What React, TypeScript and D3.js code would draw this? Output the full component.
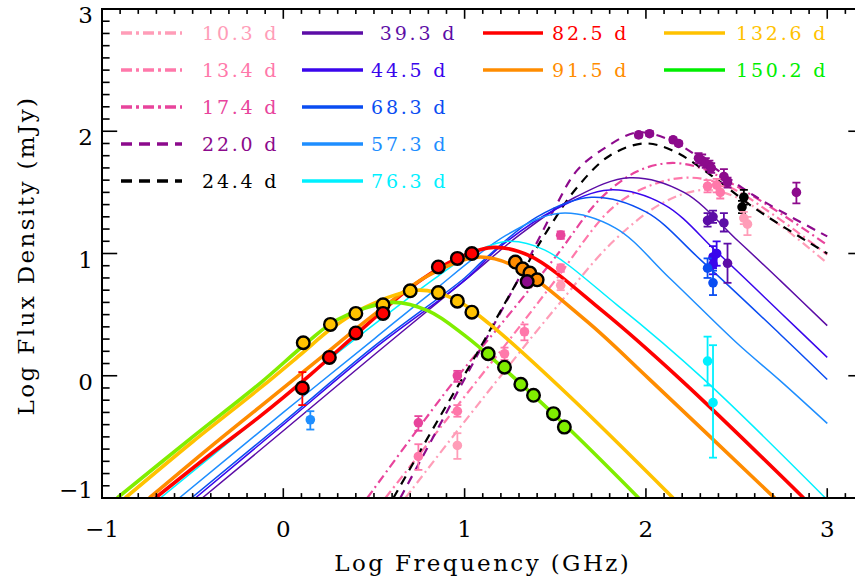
import React from "react";
import * as d3 from "d3";

// ---------- data ----------
const labels = ["10.3 d", "13.4 d", "17.4 d", "22.0 d", "24.4 d", " 39.3 d", "44.5 d", "68.3 d", "57.3 d", "76.3 d", "82.5 d", "91.5 d", "132.6 d", "150.2 d"];
const colors = ["#FF9DB8", "#FF78AA", "#E8449C", "#8C0A8C", "#000000", "#5C0DA6", "#3A06EC", "#0A4DF2", "#1E8EFF", "#00F0FF", "#FF0000", "#FF8C00", "#FFC200", "#00EE00"];
const curveColors = ["#FF9DB8", "#FF78AA", "#E8449C", "#8C0A8C", "#000000", "#5C0DA6", "#3A06EC", "#0A4DF2", "#1E8EFF", "#00F0FF", "#FF0000", "#FF8C00", "#FFC200", "#80EE00"];
const lineKinds = ["dashdot", "dashdot", "dashdot", "dash", "dash", "thin", "thin", "thin", "thin", "thin", "thick", "thick", "thick", "thick"];

const xTicks = [-1, 0, 1, 2, 3];
const yTicks = [-1, 0, 1, 2, 3];

// model curves (log nu, log F)
const curve10: [number, number][] = [[0.673, -1], [0.96, -0.45], [1.2, 0.0], [1.5, 0.55], [1.82, 1.1], [2.1, 1.42], [2.32, 1.52], [2.5, 1.46], [2.75, 1.22], [3.0, 0.92]];
const curve13: [number, number][] = [[0.563, -1], [0.8, -0.55], [1.0, -0.17], [1.25, 0.3], [1.5, 0.78], [1.82, 1.38], [2.05, 1.57], [2.25, 1.62], [2.45, 1.55], [2.7, 1.32], [3.0, 0.99]];
const curve17: [number, number][] = [[0.463, -1], [0.745, -0.43], [0.96, -0.01], [1.2, 0.42], [1.5, 0.97], [1.75, 1.45], [1.95, 1.67], [2.13, 1.74], [2.3, 1.7], [2.5, 1.55], [2.75, 1.32], [3.0, 1.07]];
const curve22: [number, number][] = [[0.645, -1], [0.9, -0.3], [1.1, 0.25], [1.3, 0.8], [1.5, 1.38], [1.62, 1.68], [1.77, 1.86], [1.95, 1.99], [2.13, 1.93], [2.32, 1.76], [2.6, 1.47], [3.0, 1.14]];
const curve24: [number, number][] = [[0.607, -1], [0.85, -0.37], [1.09, 0.24], [1.24, 0.64], [1.47, 1.22], [1.62, 1.54], [1.8, 1.8], [1.99, 1.9], [2.15, 1.84], [2.35, 1.65], [2.6, 1.37], [3.0, 1.0]];
const curve39: [number, number][] = [[-0.447, -1], [0.0, -0.45], [0.5, 0.17], [1.0, 0.78], [1.31, 1.16], [1.61, 1.46], [1.91, 1.62], [2.21, 1.5], [2.51, 1.1], [2.74, 0.78], [3.0, 0.41]];
const curve44: [number, number][] = [[-0.485, -1], [0.0, -0.4], [0.5, 0.22], [1.0, 0.78], [1.2, 1.06], [1.5, 1.36], [1.8, 1.52], [2.1, 1.4], [2.4, 1.0], [2.74, 0.52], [3.0, 0.15]];
const curve68: [number, number][] = [[-0.507, -1], [0.0, -0.38], [0.5, 0.24], [1.0, 0.8], [1.1, 0.94], [1.4, 1.3], [1.7, 1.46], [2.0, 1.34], [2.3, 0.95], [2.74, 0.34], [3.0, -0.03]];
const curve57: [number, number][] = [[-0.574, -1], [0.0, -0.3], [0.5, 0.3], [0.8, 0.66], [1.23, 1.15], [1.53, 1.33], [1.83, 1.21], [2.13, 0.8], [2.5, 0.27], [2.74, -0.04], [3.0, -0.39]];
const curve76: [number, number][] = [[-0.678, -1], [-0.2, -0.42], [0.2, 0.07], [0.51, 0.43], [0.84, 0.8], [1.04, 1.0], [1.24, 1.1], [1.44, 1.03], [1.84, 0.58], [2.32, -0.03], [2.99, -1]];
const curve82: [number, number][] = [[-0.706, -1], [-0.4, -0.64], [-0.127, -0.33], [0.15, 0.01], [0.425, 0.37], [0.7, 0.72], [0.96, 0.96], [1.16, 1.05], [1.36, 0.98], [1.76, 0.53], [2.19, -0.03], [2.87, -1]];
const curve91: [number, number][] = [[-0.739, -1], [-0.4, -0.58], [-0.1, -0.22], [0.2, 0.14], [0.5, 0.5], [0.8, 0.82], [1.07, 0.97], [1.27, 0.9], [1.67, 0.45], [2.02, -0.03], [2.71, -1]];
const curve132: [number, number][] = [[-0.872, -1], [-0.5, -0.54], [-0.127, -0.1], [0.1, 0.18], [0.26, 0.38], [0.45, 0.56], [0.74, 0.7], [0.94, 0.63], [1.14, 0.42], [1.58, -0.17], [2.15, -1]];
const curve150: [number, number][] = [[-0.916, -1], [-0.5, -0.5], [-0.127, -0.06], [0.13, 0.27], [0.3, 0.46], [0.6, 0.6], [0.8, 0.53], [1.0, 0.33], [1.2, 0.08], [1.58, -0.44], [1.96, -1]];
const curves = [curve10, curve13, curve17, curve22, curve24, curve39, curve44, curve68, curve57, curve76, curve82, curve91, curve132, curve150];

// observed points with black outline: [series, log nu, log F]
const bigPoints: [number, number, number][] = [
  [12, 0.11, 0.27], [12, 0.26, 0.42], [12, 0.4, 0.51], [12, 0.55, 0.58], [12, 0.7, 0.695], [12, 0.855, 0.68], [12, 0.96, 0.61], [12, 1.04, 0.52],
  [10, 0.105, -0.1], [10, 0.254, 0.15], [10, 0.4, 0.35], [10, 0.55, 0.51], [10, 0.855, 0.89], [10, 0.96, 0.96], [10, 1.04, 1.0],
  [11, 1.28, 0.93], [11, 1.32, 0.875], [11, 1.36, 0.84], [11, 1.4, 0.785],
  [3, 1.345, 0.77],
  [13, 1.13, 0.18], [13, 1.22, 0.07], [13, 1.31, -0.07], [13, 1.38, -0.16], [13, 1.49, -0.31], [13, 1.55, -0.42],
];
// error bar for big points: [series, log nu, low, high]
const bigErrors: [number, number, number, number][] = [[10, 0.105, -0.24, 0.03]];

// small points with error bars: [series, log nu, log F, low, high]
const smallPoints: [number, number, number, number, number][] = [
  [8, 0.149, -0.36, -0.44, -0.29],
  [2, 0.745, -0.385, -0.45, -0.33],
  [1, 0.745, -0.66, -0.77, -0.56],
  [0, 0.96, -0.57, -0.68, -0.47],
  [1, 0.96, -0.29, -0.335, -0.24],
  [2, 0.96, 0.0, -0.05, 0.04],
  [1, 1.22, 0.18, 0.13, 0.23],
  [1, 1.33, 0.36, 0.29, 0.42],
  [2, 1.53, 1.15, 1.12, 1.18],
  [1, 1.53, 0.88, 0.85, 0.91],
  [0, 1.53, 0.74, 0.7, 0.78],
  [3, 1.96, 1.97, 1.95, 1.99], [3, 2.02, 1.98, 1.96, 2.0], [3, 2.15, 1.93, 1.91, 1.95], [3, 2.18, 1.9, 1.88, 1.92],
  [3, 2.29, 1.78, 1.74, 1.82], [3, 2.31, 1.76, 1.72, 1.81], [3, 2.33, 1.74, 1.7, 1.78], [3, 2.35, 1.72, 1.68, 1.76], [3, 2.36, 1.7, 1.66, 1.74],
  [3, 2.43, 1.63, 1.58, 1.69], [3, 2.45, 1.58, 1.54, 1.62], [3, 2.83, 1.5, 1.41, 1.58],
  [4, 2.54, 1.46, 1.4, 1.52], [4, 2.53, 1.38, 1.33, 1.43],
  [1, 2.34, 1.55, 1.5, 1.6], [1, 2.39, 1.56, 1.5, 1.61], [1, 2.41, 1.5, 1.45, 1.55],
  [0, 2.54, 1.29, 1.24, 1.34], [0, 2.56, 1.24, 1.15, 1.3],
  [5, 2.34, 1.27, 1.22, 1.33], [5, 2.37, 1.3, 1.25, 1.35], [5, 2.43, 1.25, 1.18, 1.33], [5, 2.45, 0.92, 0.76, 1.08],
  [6, 2.37, 0.97, 0.88, 1.06], [6, 2.39, 1.0, 0.9, 1.1], [6, 2.37, 0.91, 0.83, 0.99],
  [7, 2.34, 0.88, 0.8, 0.96], [7, 2.37, 0.76, 0.66, 0.86],
  [9, 2.34, 0.12, -0.08, 0.32], [9, 2.37, -0.22, -0.67, 0.25],
];

// ---------- layout ----------
const W = 855, H = 581;
const x = d3.scaleLinear().domain([-1, 3.2]).range([102, 863.5]);
const y = d3.scaleLinear().domain([-1, 3]).range([498, 9]);
const FONT = "'DejaVu Serif', serif";

function dashFor(kind: string) {
  if (kind === "dashdot") return "9 4 2 4";
  if (kind === "dash") return "9 7";
  return undefined;
}
function widthFor(kind: string) {
  if (kind === "thick") return 3.6;
  if (kind === "thin") return 1.5;
  return 2.2;
}

export default function App() {
  const line = d3.line<[number, number]>().x(d => x(d[0])).y(d => y(d[1])).curve(d3.curveCatmullRom.alpha(0.5));
  const [x0, x1] = x.range();
  const [y0, y1] = y.range();
  const xMinor = d3.range(-10, 33).map(i => i / 10);
  const yMinor = d3.range(-10, 31).map(i => i / 10);

  const legendCols = [
    { lx0: 121, lx1: 182, tx: 202, items: [0, 1, 2, 3, 4] },
    { lx0: 302, lx1: 363, tx: 371, items: [5, 6, 7, 8, 9] },
    { lx0: 483, lx1: 543, tx: 552, items: [10, 11] },
    { lx0: 664, lx1: 725, tx: 736, items: [12, 13] },
  ];
  const rowY = (r: number) => 33 + r * 37;

  return (
    <svg width={W} height={H} style={{ position: "absolute", left: 0, top: 0, background: "#fff" }} fontFamily={FONT}>
      <defs>
        <clipPath id="plot"><rect x={x0} y={y1} width={x1 - x0} height={y0 - y1} /></clipPath>
      </defs>
      <rect x={0} y={0} width={W} height={H} fill="#fff" />

      {/* curves */}
      <g clipPath="url(#plot)" fill="none">
        {curves.map((c, i) => (
          <path key={i} d={line(c) || ""} stroke={curveColors[i]} strokeWidth={widthFor(lineKinds[i])}
            strokeDasharray={dashFor(lineKinds[i])} strokeLinejoin="round" />
        ))}
      </g>

      {/* small points */}
      <g clipPath="url(#plot)">
        {smallPoints.map(([s, px, py, lo, hi], i) => (
          <g key={i} stroke={curveColors[s]} strokeWidth={1.8}>
            <line x1={x(px)} x2={x(px)} y1={y(lo)} y2={y(hi)} />
            <line x1={x(px) - 4} x2={x(px) + 4} y1={y(lo)} y2={y(lo)} />
            <line x1={x(px) - 4} x2={x(px) + 4} y1={y(hi)} y2={y(hi)} />
            <circle cx={x(px)} cy={y(py)} r={4.8} fill={curveColors[s]} stroke="none" />
          </g>
        ))}
      </g>

      {/* big points */}
      <g>
        {bigErrors.map(([s, px, lo, hi], i) => (
          <g key={i} stroke={curveColors[s]} strokeWidth={1.8}>
            <line x1={x(px)} x2={x(px)} y1={y(lo)} y2={y(hi)} />
            <line x1={x(px) - 4} x2={x(px) + 4} y1={y(lo)} y2={y(lo)} />
            <line x1={x(px) - 4} x2={x(px) + 4} y1={y(hi)} y2={y(hi)} />
          </g>
        ))}
        {bigPoints.map(([s, px, py], i) => (
          <circle key={i} cx={x(px)} cy={y(py)} r={6.3} fill={curveColors[s]} stroke="#000" strokeWidth={2.4} />
        ))}
      </g>

      {/* frame */}
      <rect x={x0} y={y1} width={x1 - x0} height={y0 - y1} fill="none" stroke="#000" strokeWidth={2} />
      <g stroke="#000" strokeWidth={1.6}>
        {xMinor.map((t, i) => {
          const major = Math.abs(t - Math.round(t)) < 1e-6;
          const L = major ? 9.8 : 4.9;
          return (
            <g key={i}>
              <line x1={x(t)} x2={x(t)} y1={y0} y2={y0 - L} />
              <line x1={x(t)} x2={x(t)} y1={y1} y2={y1 + L} />
            </g>
          );
        })}
        {yMinor.map((t, i) => {
          const major = Math.abs(t - Math.round(t)) < 1e-6;
          const L = major ? 15.2 : 7.6;
          return (
            <g key={i}>
              <line x1={x0} x2={x0 + L} y1={y(t)} y2={y(t)} />
              <line x1={x1} x2={x1 - L} y1={y(t)} y2={y(t)} />
            </g>
          );
        })}
      </g>

      {/* tick labels */}
      <g fontSize={23} fill="#000">
        {xTicks.map(t => (
          <text key={t} x={x(t)} y={537} textAnchor="middle">{t < 0 ? "\u2212" + Math.abs(t) : t}</text>
        ))}
        {yTicks.map(t => (
          <text key={t} x={93} y={t === -1 ? y(t) : y(t) + 14} textAnchor="end">{t < 0 ? "\u2212" + Math.abs(t) : t}</text>
        ))}
      </g>

      {/* axis titles */}
      <text x={(x0 + x1) / 2} y={571} textAnchor="middle" fontSize={23} letterSpacing={2.4}>Log Frequency (GHz)</text>
      <text transform={`translate(34,${(y0 + y1) / 2 + 2}) rotate(-90)`} textAnchor="middle" fontSize={23} letterSpacing={2.4}>Log Flux Density (mJy)</text>

      {/* legend */}
      {legendCols.map((col, ci) => (
        <g key={ci}>
          {col.items.map((idx, r) => (
            <g key={idx}>
              <line x1={col.lx0} x2={col.lx1} y1={rowY(r)} y2={rowY(r)} stroke={colors[idx]} strokeWidth={3.4}
                strokeDasharray={lineKinds[idx] === "dashdot" ? "11 4 3 4" : lineKinds[idx] === "dash" ? "11 7" : undefined} />
              <text x={col.tx} y={rowY(r) + 7} fill={colors[idx]} fontSize={19} letterSpacing={2.8} style={{ whiteSpace: "pre" }}>{labels[idx]}</text>
            </g>
          ))}
        </g>
      ))}
    </svg>
  );
}
